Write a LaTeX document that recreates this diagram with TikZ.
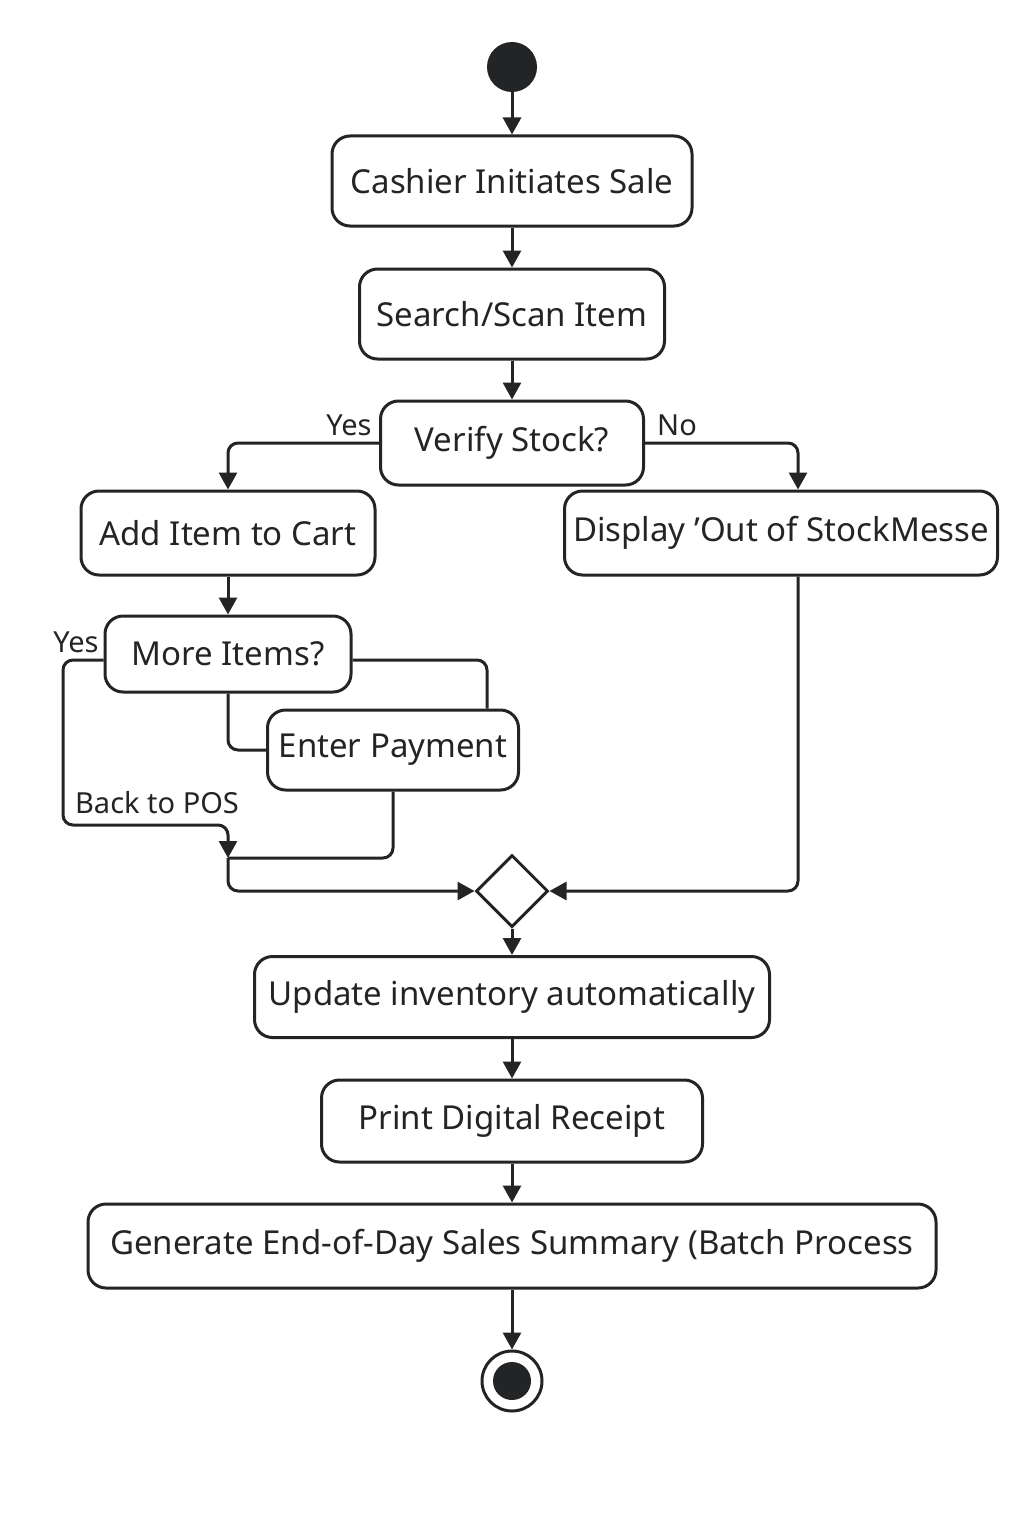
\documentclass[tikz,border=0pt]{standalone}
\usepackage{fontspec}
\setmainfont{Noto Sans}
\usetikzlibrary{arrows.meta,shapes.geometric}

\definecolor{ink}{HTML}{222426}

\tikzset{
  act/.style={draw=ink, line width=3pt, rounded corners=18pt, fill=white, minimum height=84pt, inner xsep=0pt, text=ink, font=\fontsize{33}{39}\selectfont},
  flow/.style={draw=ink, line width=3pt, rounded corners=10pt},
  arr/.style={flow, -{Triangle[length=17pt,width=18pt]}},
  lbl/.style={text=ink, inner sep=0pt, font=\fontsize{29}{34}\selectfont},
}

\begin{document}
\begin{tikzpicture}[x=1pt,y=-1pt]
\fill[white] (0,0) rectangle (1024,1536);
\useasboundingbox (0,0) rectangle (1024,1536);

% Start and end
\node[circle,fill=ink,minimum size=50pt,inner sep=0pt] (start) at (512,67) {};
\node[circle,draw=ink,line width=3pt,fill=white,minimum size=60pt,inner sep=0pt] (end) at (512,1381) {};
\node[circle,fill=ink,minimum size=38pt,inner sep=0pt] (endin) at (end) {};

% Actions
\node[act,minimum width=360pt,minimum height=90pt] (cashier) at (512,181) {Cashier Initiates Sale};
\node[act,minimum width=305pt,minimum height=90pt] (scan) at (512,314) {Search/Scan Item};
\node[act,minimum width=263pt] (verify) at (512,443) {Verify Stock?};
\node[act,minimum width=294pt] (add) at (228,533) {Add Item to Cart};
\node[act,minimum width=433pt] (disp) at (781,533) {Display ’Out of StockMesse};
\node[act,minimum width=246pt,minimum height=76pt] (more) at (228,654) {More Items?};
\node[act,minimum width=251pt,minimum height=80pt] (pay) at (393,750) {Enter Payment};
\node[act,minimum width=515pt,minimum height=81pt] (update) at (512,997) {Update inventory automatically};
\node[act,minimum width=381pt,minimum height=82pt] (receipt) at (512,1121) {Print Digital Receipt};
\node[act,minimum width=848pt] (summary) at (512,1246) {Generate End-of-Day Sales Summary (Batch Process};

% Merge
\node[diamond,draw=ink,line width=3pt,fill=white,minimum width=72pt,minimum height=72pt,inner sep=0pt] (merge) at (512,891) {};
\coordinate (join) at (228,858);
\coordinate (loop) at (63,825);

% Labels
\node[lbl] (yes1) at (349,425) {Yes};
\node[lbl] (no1) at (677,425) {No};
\node[lbl] (yes2) at (76,642) {Yes};
\node[lbl] (back) at (157,803) {Back to POS};

% Arrows
\foreach \a/\b in {start/cashier, cashier/scan, scan/verify, add/more, merge/update, update/receipt, receipt/summary, summary/end}
    \draw[arr] (\a.south) -- (\b.north);
\draw[arr] (verify.west) -| (add.north);
\draw[arr] (verify.east) -| ([xshift=17pt]disp.north);
\draw[flow] ([yshift=-6pt]more.east) -| ([xshift=94pt]pay.north);
\draw[flow] (more.south) |- (pay.west);
\draw[arr] ([yshift=-6pt]more.west) -| (loop) -| (join);
\draw[flow] (pay.south) |- (join);
\draw[arr] (join) |- (merge.west);
\draw[arr] ([xshift=17pt]disp.south) |- (merge.east);
\end{tikzpicture}
\end{document}
